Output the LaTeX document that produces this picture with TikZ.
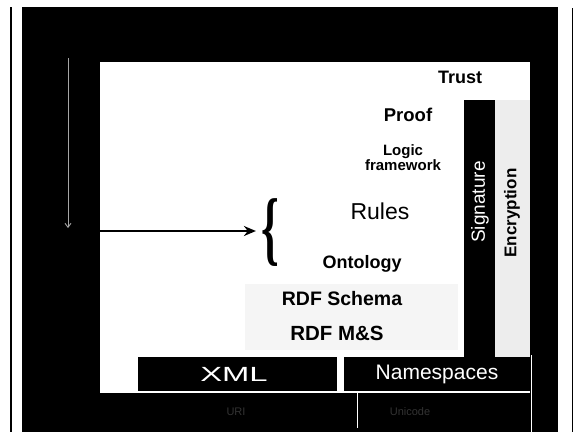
\documentclass[tikz,border=0pt]{standalone}
\usepackage{fontspec}
\setmainfont{Liberation Sans}
\newfontfamily\bracefont{Liberation Serif}
\usetikzlibrary{arrows.meta}
\begin{document}
\begin{tikzpicture}[x=1pt,y=-1pt,
  lbl/.style={inner sep=0pt, text=black, font=\fontsize{#1}{#1}\selectfont},
  blbl/.style={inner sep=0pt, text=black, font=\fontsize{#1}{#1}\selectfont\bfseries},
  darkbox/.style={fill=black, text=white, inner sep=0pt},
  faint/.style={inner sep=0pt, text=black!80, font=\fontsize{11}{11}\selectfont}]
\useasboundingbox (0,0) rectangle (577,432);
% page and slide frame
\fill[white] (0,0) rectangle (577,432);
\fill[black] (22,7) rectangle (558,432);
\draw[black, line width=1.2pt] (11,7) -- (11,432);
\draw[black, line width=1pt] (572,8) -- (572,432);
% white stage of the stack
\fill[white] (100,62) rectangle (530,393);
% light grey shading behind the lower layers and the encryption column
\fill[black!4] (245,284) rectangle (458,350);
\fill[black!7] (495,100) rectangle (530,358);
% signature bar
\node[darkbox, anchor=north west, minimum width=31pt, minimum height=258pt] (sigbar) at (464,100) {};
\node[inner sep=0pt, rotate=90, text=white, font=\fontsize{19}{19}\selectfont] (sig) at (480,202) {Signature};
\node[inner sep=0pt, rotate=90, text=black, font=\fontsize{17}{17}\selectfont\bfseries] (enc) at (512,213) {Encryption};
% layer labels
\node[blbl=18] (trust) at (460,77) {Trust};
\node[blbl=18.5] (proof) at (408,115) {Proof};
\node[blbl=15, align=center] (logic) at (403,158) {Logic\\[0pt]framework};
\node[lbl=23] (rules) at (380,211) {Rules};
\node[blbl=18] (onto) at (362,264) {Ontology};
\node[blbl=19.5] (rdfs) at (342,299) {RDF Schema};
\node[blbl=20.5] (rdfms) at (337,333) {RDF M\&S};
% XML and namespaces boxes
\node[darkbox, minimum width=199pt, minimum height=34pt] (xml) at (237.5,374) {};
\node[inner sep=0pt, text=white, font=\fontsize{20.5}{20.5}\selectfont] (xmltxt) at (234,374) {\scalebox{1.6}[1]{XML}};
\node[darkbox, minimum width=186pt, minimum height=34pt, font=\fontsize{21}{21}\selectfont] (ns) at (437,374) {Namespaces};
% bottom row separators and faint labels
\draw[white, line width=1.5pt] (357.5,393) -- (357.5,428);
\draw[white, line width=1pt] (531,355) -- (531,432);
\node[faint] (uri) at (236,412) {URI};
\node[faint] (uni) at (410,412) {Unicode};
% brace and pointer arrow
\node[inner sep=0pt, text=black, font=\fontsize{82}{82}\bracefont\bfseries] (brace) at (270,233) {\scalebox{0.55}[1]{\{}};
\coordinate (hstart) at (100,231);
\draw[black, line width=2pt, -{Stealth[length=12pt, width=10pt]}, shorten >=5pt] (hstart) -- (brace.west |- hstart);
% thin grey arrow on the left frame
\coordinate (vtop) at (68,58);
\coordinate (vend) at (68,228);
\draw[black!35, line width=0.9pt, -{Straight Barb[length=4pt, width=6pt]}] (vtop) -- (vend);
\end{tikzpicture}
\end{document}
